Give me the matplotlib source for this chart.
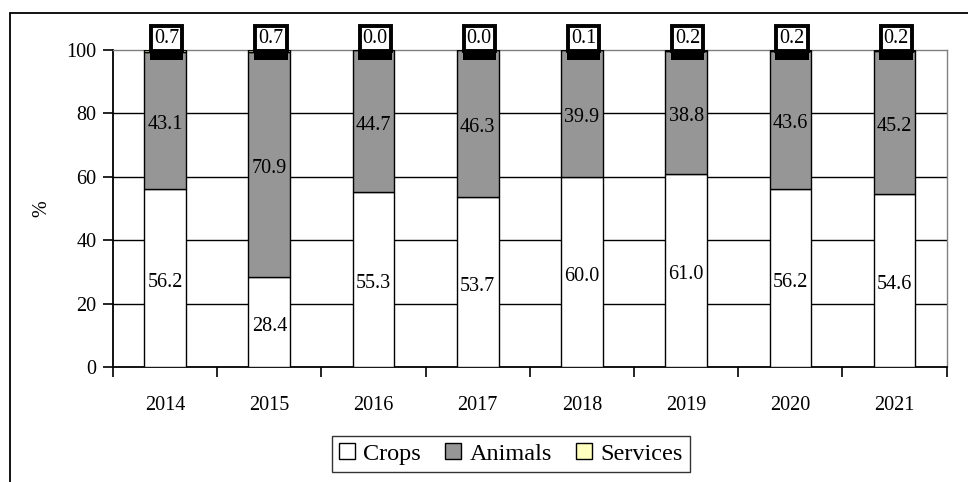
import matplotlib
matplotlib.use("Agg")
import matplotlib.pyplot as plt
from matplotlib.patches import Rectangle, Patch
import numpy as np

years = ["2014", "2015", "2016", "2017", "2018", "2019", "2020", "2021"]
crops = [56.2, 28.4, 55.3, 53.7, 60.0, 61.0, 56.2, 54.6]
animals = [43.1, 70.9, 44.7, 46.3, 39.9, 38.8, 43.6, 45.2]
services = [0.7, 0.7, 0.0, 0.0, 0.1, 0.2, 0.2, 0.2]

plt.rcParams['font.family'] = ['Liberation Serif', 'DejaVu Serif']
FS = 14.5

W, H = 968, 482
fig = plt.figure(figsize=(W / 100, H / 100), dpi=100)
fig.patch.set_facecolor("white")

# outer frame
fig.patches.append(Rectangle((10 / W, -0.05), 1.1, 1 - 13 / H + 0.05, transform=fig.transFigure,
                             fill=False, ec="black", lw=1.3, zorder=0))

left, right = 113 / W, 946.7 / W
bottom, top = 1 - 367 / H, 1 - 50 / H
ax = fig.add_axes([left, bottom, right - left, top - bottom])

x = np.arange(len(years))
bw = 0.40
c = np.array(crops)
a = np.array(animals)
s = np.array(services)

ax.bar(x, c, bw, color="white", edgecolor="black", lw=1.0, zorder=3)
ax.bar(x, a, bw, bottom=c, color="#969696", edgecolor="black", lw=1.0, zorder=3)
ax.bar(x, s, bw, bottom=c + a, color="#FFFFC0", edgecolor="black", lw=1.0, zorder=3)

for i in range(len(years)):
    ax.annotate(f"{crops[i]:.1f}", xy=(x[i], c[i] / 2), xytext=(0, -3), textcoords="offset points",
                ha="center", va="center", fontsize=FS, zorder=5)
    ax.annotate(f"{animals[i]:.1f}", xy=(x[i], c[i] + a[i] / 2), xytext=(0, -3), textcoords="offset points",
                ha="center", va="center", fontsize=FS, zorder=5)
    ax.add_patch(Rectangle((x[i] - 0.145, 96.8), 0.32, 3.6, fc="black", ec="none", zorder=6, clip_on=False))
    ax.annotate(f"{services[i]:.1f}", xy=(x[i] + 0.015, 100), xytext=(0, 8.5), textcoords="offset points",
                ha="center", va="center", fontsize=FS, zorder=7, annotation_clip=False,
                bbox=dict(boxstyle="square,pad=0.15", fc="white", ec="black", lw=2.8))

ax.set_xlim(-0.5, len(years) - 0.5)
ax.set_ylim(0, 100)
ax.set_yticks([0, 20, 40, 60, 80, 100])
ax.set_xticks(x)
ax.set_xticklabels(years, fontsize=FS)
ax.set_xticks(np.arange(-0.5, len(years)), minor=True)
ax.tick_params(axis="x", which="major", length=0, pad=21)
ax.tick_params(axis="x", which="minor", length=7, width=1.2, direction="out")
ax.tick_params(axis="y", length=7, width=1.2, direction="out", labelsize=FS, pad=5)

for yv in [20, 40, 60, 80]:
    ax.axhline(yv, color="black", lw=1.0, zorder=1)

ax.spines["left"].set_linewidth(1.3)
ax.spines["bottom"].set_linewidth(1.3)
ax.spines["top"].set_color("#808080")
ax.spines["right"].set_color("#808080")
ax.spines["top"].set_linewidth(1.0)
ax.spines["right"].set_linewidth(1.0)

ax.set_ylabel("%", fontsize=FS, va="center")
ax.yaxis.set_label_coords((42 - 113) / (946.7 - 113), 0.5)

handles = [Patch(fc="white", ec="black", lw=1),
           Patch(fc="#969696", ec="black", lw=1),
           Patch(fc="#FFFFC0", ec="black", lw=1)]
leg = fig.legend(handles, ["Crops", "Animals", "Services"], loc="center",
                 bbox_to_anchor=(511 / W, 1 - 454 / H), ncol=3, fontsize=17.5,
                 frameon=True, fancybox=False, edgecolor="black",
                 handlelength=0.65, handleheight=0.65, handletextpad=0.35,
                 columnspacing=1.0, borderpad=0.3)
leg.get_frame().set_linewidth(1.0)

fig.savefig("out.png", dpi=100, facecolor="white")
